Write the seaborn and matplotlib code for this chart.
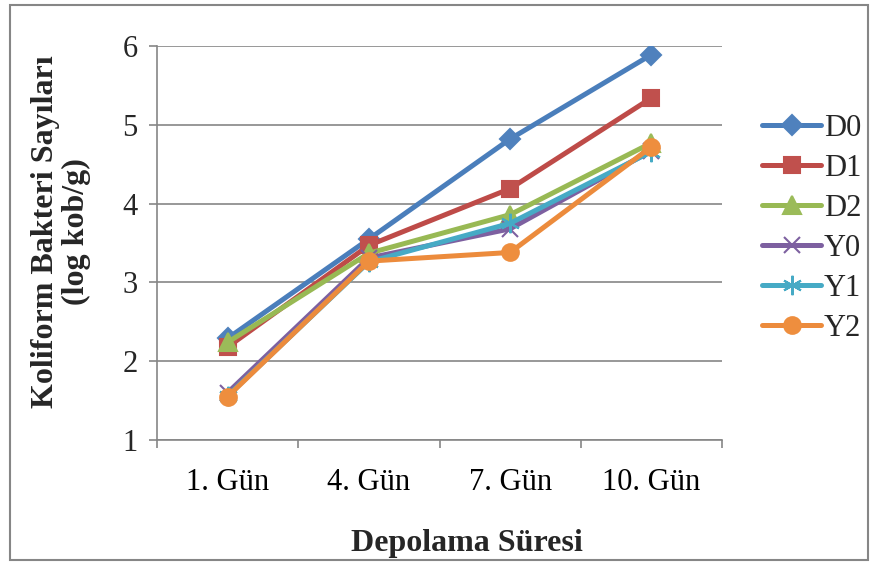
import matplotlib
matplotlib.use("Agg")
import matplotlib.pyplot as plt
from matplotlib.patches import Rectangle
from matplotlib.ticker import FixedLocator
import seaborn as sns
import pandas as pd

days = ["1. Gün", "4. Gün", "7. Gün", "10. Gün"]
series = ["D0", "D1", "D2", "Y0", "Y1", "Y2"]
D0 = [2.29, 3.55, 4.82, 5.89]
D1 = [2.18, 3.47, 4.19, 5.34]
D2 = [2.24, 3.37, 3.86, 4.77]
Y0 = [1.60, 3.31, 3.68, 4.67]
Y1 = [1.56, 3.26, 3.75, 4.66]
Y2 = [1.55, 3.27, 3.38, 4.72]
values = [D0, D1, D2, Y0, Y1, Y2]

colors = ["#4A7EBB", "#BE4B48", "#98B954", "#7D60A0", "#46AAC5", "#EC8B3C"]
marker_faces = ["#4F81BD", "#C0504D", "#9BBB59", "#8064A2", "#4BACC6", "#EE8E3E"]
markers = ["D", "s", "^", "x", "*", "o"]

rows = []
for s, vals in zip(series, values):
    for i, v in enumerate(vals):
        rows.append({"x": i, "day": days[i], "series": s, "value": v})
df = pd.DataFrame(rows)

sns.set_theme(style="white")
plt.rcParams["font.family"] = ["Liberation Serif", "DejaVu Serif"]

fig = plt.figure(figsize=(8.72, 5.65), dpi=100)
ax = fig.add_axes([157/872, 1-440/565, (722-157)/872, (440-46)/565])

gray = "#868686"
for s, c, mf, m in zip(series, colors, marker_faces, markers):
    sub = df[df["series"] == s]
    msize = {"D": 10, "s": 12, "^": 13, "x": 11, "*": 14, "o": 12}[m]
    kw = dict(marker=m, markersize=msize, markerfacecolor=mf,
              markeredgecolor=c if m in ("x", "*") else mf, markeredgewidth=1.5)
    if m == "*":
        kw["marker"] = (6, 2, 0)
    sns.lineplot(data=sub, x="x", y="value", ax=ax, color=c, linewidth=3.6,
                 label=s, **kw)

ax.set_xlim(-0.5, 3.5)
ax.set_ylim(1, 6)
ax.set_yticks([1, 2, 3, 4, 5, 6])
ax.set_xticks(range(4))
ax.set_xticklabels(days)
ax.xaxis.set_minor_locator(FixedLocator([-0.5, 0.5, 1.5, 2.5, 3.5]))
ax.tick_params(axis="x", which="major", length=0, labelsize=22, pad=20, colors="black")
ax.tick_params(axis="x", which="minor", length=6, width=1.2, color=gray, direction="out", bottom=True)
ax.tick_params(axis="y", which="major", length=6, width=1.2, color=gray, direction="out",
               labelsize=22, pad=8, left=True)
ax.grid(axis="y", color=gray, linewidth=1.2)
ax.set_axisbelow(True)
for side in ["top", "right"]:
    ax.spines[side].set_visible(False)
for side in ["left", "bottom"]:
    ax.spines[side].set_color(gray)
    ax.spines[side].set_linewidth(1.2)

ax.set_xlabel("Depolama Süresi", fontsize=23, fontweight="bold")
ax.xaxis.label.set_verticalalignment("center")
ax.xaxis.set_label_coords((467-157)/565, -(543-440)/394)
ax.set_ylabel("Koliform Bakteri Sayıları\n(log kob/g)", fontsize=23, fontweight="bold",
              linespacing=1.05)
ax.yaxis.label.set_verticalalignment("center")
ax.yaxis.set_label_coords(-(157-61)/565, (440-232)/394)

leg = ax.legend(loc="upper left", bbox_to_anchor=(1.05, 0.858), frameon=False,
                fontsize=22, handlelength=1.9, handletextpad=0.1, labelspacing=0.36,
                borderaxespad=0)

fig.patches.append(Rectangle((10/872, 5/565), 858/872, 555/565, transform=fig.transFigure,
                             fill=False, edgecolor=gray, linewidth=1.5))

fig.savefig("out.png", dpi=100, facecolor="white")
